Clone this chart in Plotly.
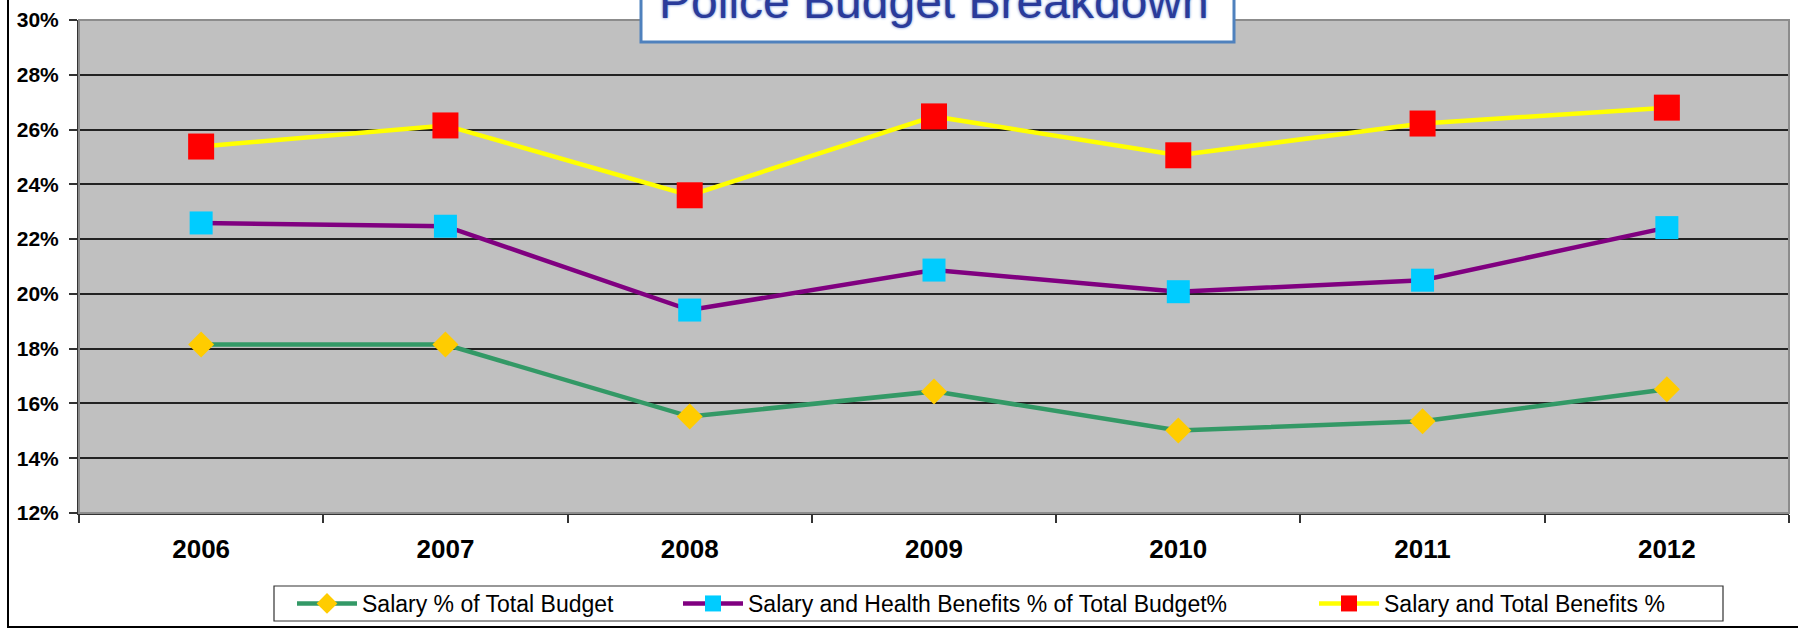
import plotly.graph_objects as go

# ---- data ----
years = ["2006", "2007", "2008", "2009", "2010", "2011", "2012"]
salary_pct = [18.15, 18.15, 15.52, 16.44, 15.01, 15.35, 16.52]
salary_health_pct = [22.59, 22.47, 19.41, 20.87, 20.08, 20.50, 22.42]
salary_total_pct = [25.38, 26.15, 23.60, 26.48, 25.06, 26.22, 26.80]
series_names = [
    "Salary % of Total Budget",
    "Salary and Health Benefits % of Total Budget%",
    "Salary and Total Benefits %",
]
y_tick_vals = [12, 14, 16, 18, 20, 22, 24, 26, 28, 30]
y_tick_text = [f"{v}%" for v in y_tick_vals]
title_text = "Police Budget Breakdown"

W, H = 1798, 628
L, R, T, B = 79, 9, 20, 115
FONT = "Liberation Sans, Arial, sans-serif"

fig = go.Figure()
fig.add_trace(go.Scatter(
    x=years, y=salary_pct, name=series_names[0], mode="lines+markers",
    line=dict(color="#339966", width=4.5),
    marker=dict(symbol="diamond", size=20, color="#FFCC00"),
    legend="legend",
))
fig.add_trace(go.Scatter(
    x=years, y=salary_health_pct, name=series_names[1], mode="lines+markers",
    line=dict(color="#800080", width=4.5),
    marker=dict(symbol="square", size=23, color="#00CCFF"),
    legend="legend2",
))
fig.add_trace(go.Scatter(
    x=years, y=salary_total_pct, name=series_names[2], mode="lines+markers",
    line=dict(color="#FFFF00", width=4.5),
    marker=dict(symbol="square", size=26, color="#FF0000"),
    legend="legend3",
))

def leg(xpx):
    return dict(
        xref="container", yref="container", x=xpx / W, y=1 - 603.5 / H,
        xanchor="left", yanchor="middle", orientation="h",
        bgcolor="rgba(0,0,0,0)", borderwidth=0, itemwidth=60,
        font=dict(family=FONT, size=23, color="black"),
    )

pw = W - L - R
ph = H - T - B
def px2x(p):
    return (p - L) / pw
def py2y(p):
    return (H - B - p) / ph

fig.update_layout(
    width=W, height=H,
    margin=dict(l=L, r=R, t=T, b=B, pad=0),
    paper_bgcolor="white", plot_bgcolor="#C0C0C0",
    showlegend=True,
    legend=leg(292), legend2=leg(678), legend3=leg(1314),
    xaxis=dict(
        type="category", range=[-0.5, 6.5], tickson="boundaries",
        ticks="outside", ticklen=8, tickwidth=1.5, tickcolor="#333333",
        showline=True, linecolor="#333333", linewidth=2,
        showgrid=False, zeroline=False,
        tickfont=dict(family=FONT, size=26, color="black", weight="bold"),
        ticklabelstandoff=12,
    ),
    yaxis=dict(
        range=[12, 30], tickvals=y_tick_vals, ticktext=y_tick_text,
        ticks="outside", ticklen=8, tickwidth=1.5, tickcolor="#333333",
        showline=True, linecolor="#333333", linewidth=2,
        showgrid=True, gridcolor="#222222", gridwidth=1.5, zeroline=False,
        tickfont=dict(family=FONT, size=21, color="black", weight="bold"),
        ticklabelstandoff=6,
    ),
    shapes=[
        dict(type="rect", xref="paper", yref="paper", x0=0, x1=1, y0=0, y1=1,
             line=dict(color="#8C8C8C", width=2), layer="above"),
        dict(type="rect", xref="paper", yref="paper",
             x0=px2x(8), x1=px2x(1815), y0=py2y(627), y1=py2y(-10),
             line=dict(color="black", width=2), layer="above"),
        dict(type="rect", xref="paper", yref="paper",
             x0=px2x(274), x1=px2x(1723), y0=py2y(621), y1=py2y(586),
             line=dict(color="#333333", width=1.2), fillcolor="white", layer="above"),
        dict(type="rect", xref="paper", yref="paper",
             x0=px2x(641), x1=px2x(1234), y0=py2y(42), y1=py2y(-10),
             line=dict(color="#4F81BD", width=3), fillcolor="white", layer="above"),
    ],
    annotations=[
        dict(text=title_text, xref="paper", yref="paper", x=0.5, y=py2y(1),
             xanchor="center", yanchor="middle", showarrow=False,
             font=dict(family=FONT, size=48, color="#2A3B9A",
                       shadow="0px 0px 3px #5F82D0")),
    ],
)

fig.write_html(
    "out.html",
    config={"displayModeBar": False},
    post_script="document.body.style.margin='0';document.body.style.overflow='hidden';",
)
